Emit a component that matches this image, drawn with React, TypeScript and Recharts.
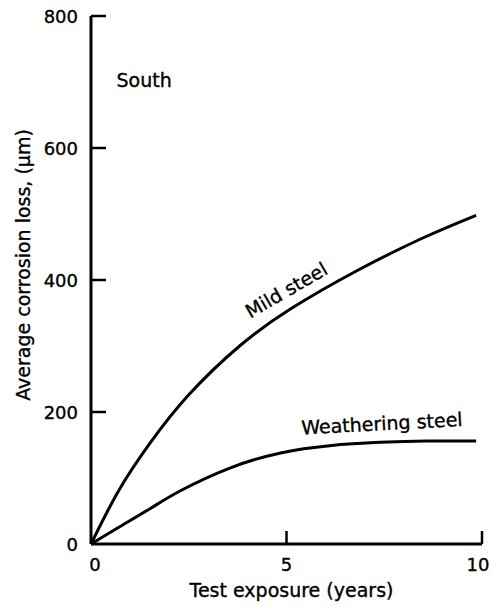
import { LineChart, Line, XAxis, YAxis, ReferenceDot } from "recharts"

// test exposure (years) vs average corrosion loss (µm), South site
const mildYears = [0, 0.7, 1.5, 2.5, 3.8, 5.1, 6.8, 8.5, 9.85]
const mildLoss = [0, 80, 152, 226, 300, 356, 414, 464, 498]

const weatheringYears = [0, 0.7, 1.55, 2.3, 3.55, 4.85, 6.1, 7.4, 8.6, 9.85]
const weatheringLoss = [0, 25, 55, 81, 115, 138, 149, 154, 156, 156]

const xTicks = [0, 5, 10]
const yTicks = [0, 200, 400, 600, 800]

const mildSteel = mildYears.map((year, i) => ({ year, loss: mildLoss[i] }))
const weatheringSteel = weatheringYears.map((year, i) => ({ year, loss: weatheringLoss[i] }))

const FONT = "DejaVu Sans"
const Y_TICK_GAP = 13

// slightly heavier text, like the printed figure
const textStyle = {
  fontFamily: FONT,
  fill: "#000",
  stroke: "#000",
  strokeWidth: 0.35,
}

function YTick(props: any) {
  const { x, y, payload } = props
  const axisX = x + Y_TICK_GAP
  return (
    <g>
      {payload.value > 0 && (
        <line x1={axisX} y1={y} x2={axisX + 15} y2={y} stroke="#000" strokeWidth={2.5} />
      )}
      <text x={x} y={y} dy={7} textAnchor="end" fontSize={18} {...textStyle}>
        {payload.value}
      </text>
    </g>
  )
}

function XTick(props: any) {
  const { x, y, payload } = props
  const shift = payload.value === 0 ? 4 : payload.value === 10 ? -4 : 0
  return (
    <g>
      {payload.value > 0 && (
        <line x1={x} y1={y} x2={x} y2={y - 13} stroke="#000" strokeWidth={2.5} />
      )}
      <text x={x + shift} y={y + 27} textAnchor="middle" fontSize={18} {...textStyle}>
        {payload.value}
      </text>
    </g>
  )
}

function XTitle(props: any) {
  const { viewBox } = props
  return (
    <text
      x={viewBox.x + viewBox.width / 2 + 5}
      y={viewBox.y + 53}
      textAnchor="middle"
      fontSize={19}
      {...textStyle}
    >
      Test exposure (years)
    </text>
  )
}

function YTitle(props: any) {
  const { viewBox } = props
  const cx = 23
  const cy = viewBox.y + viewBox.height / 2 - 15
  return (
    <text
      x={cx}
      y={cy}
      transform={`rotate(-90 ${cx} ${cy})`}
      textAnchor="middle"
      dominantBaseline="central"
      fontSize={19}
      {...textStyle}
    >
      Average corrosion loss, (µm)
    </text>
  )
}

// text placed at a data point, optionally rotated along the curve
const note = (text: string, angle = 0) =>
  function Note(props: any) {
    const { viewBox } = props
    const cx = viewBox.x + viewBox.width / 2
    const cy = viewBox.y + viewBox.height / 2
    return (
      <text
        x={cx}
        y={cy}
        transform={`rotate(${angle} ${cx} ${cy})`}
        textAnchor="middle"
        dominantBaseline="central"
        fontSize={19}
        {...textStyle}
      >
        {text}
      </text>
    )
  }

export default function App() {
  return (
    <div style={{ position: "absolute", left: 0, top: 0, background: "#fff" }}>
      <LineChart width={492} height={607} margin={{ top: 16, right: 10, left: 0, bottom: 0 }}>
        <XAxis
          type="number"
          dataKey="year"
          domain={[0, 10]}
          ticks={xTicks}
          height={63}
          tickSize={0}
          tickMargin={0}
          tick={<XTick />}
          axisLine={{ stroke: "#000", strokeWidth: 3 }}
          label={XTitle}
        />
        <YAxis
          type="number"
          dataKey="loss"
          domain={[0, 800]}
          ticks={yTicks}
          width={91}
          tickSize={0}
          tickMargin={Y_TICK_GAP}
          tick={<YTick />}
          axisLine={{ stroke: "#000", strokeWidth: 3 }}
          label={YTitle}
        />
        <Line
          data={mildSteel}
          dataKey="loss"
          type="natural"
          stroke="#000"
          strokeWidth={3}
          dot={false}
          isAnimationActive={false}
        />
        <Line
          data={weatheringSteel}
          dataKey="loss"
          type="natural"
          stroke="#000"
          strokeWidth={3}
          dot={false}
          isAnimationActive={false}
        />
        <ReferenceDot x={1.36} y={703} r={0} fill="none" stroke="none" label={note("South")} />
        <ReferenceDot x={4.99} y={385} r={0} fill="none" stroke="none" label={note("Mild steel", -30)} />
        <ReferenceDot
          x={7.44}
          y={183}
          r={0}
          fill="none"
          stroke="none"
          label={note("Weathering steel", -3)}
        />
      </LineChart>
    </div>
  )
}
